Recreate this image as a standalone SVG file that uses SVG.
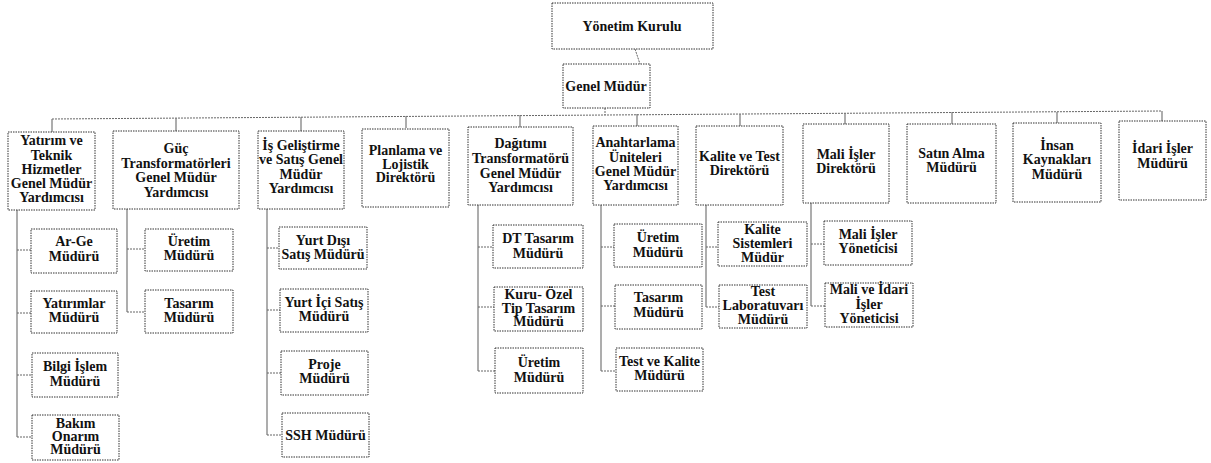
<svg xmlns="http://www.w3.org/2000/svg" width="1211" height="463" viewBox="0 0 1211 463">
<style>
.b{fill:#fff;stroke:#333;stroke-width:1;stroke-dasharray:1.5,1}
.t{font-family:"Liberation Serif","Times New Roman",serif;font-weight:bold;font-size:14px;fill:#111;text-anchor:middle}
.c{fill:none;stroke:#666;stroke-width:1;stroke-dasharray:2,1}
.s{fill:none;stroke:#777;stroke-width:1.2}
</style>
<rect width="1211" height="463" fill="#fff"/>
<g id="connectors">
<path class="c" d="M635 49 L640 64"/>
<path class="c" d="M605 108 V115"/>
<path class="c" d="M52 119 L1162 111"/>
<path class="s" d="M52 119 V132 M176 118 V131 M301 117 V131 M406 116 V128 M520 115 V127 M637 114 V126 M740 114 V126 M845 113 V124 M952 112 V124 M1057 112 V123 M1162 111 V121"/>
<path class="s" d="M17 210 V437 M127 209 V312 M267 209 V435 M478 205 V371 M601 205 V371 M706 205 V307 M811 203 V306"/>
<path class="c" d="M17 250 H31 M17 313 H31 M17 375 H32 M17 437 H32"/>
<path class="c" d="M127 249 H145 M127 312 H145"/>
<path class="c" d="M267 248 H279 M267 310 H280 M267 373 H281 M267 435 H282"/>
<path class="c" d="M478 247 H493 M478 307 H494 M478 371 H495"/>
<path class="c" d="M601 247 H614 M601 306 H615 M601 371 H616"/>
<path class="c" d="M706 247 H718 M706 307 H719"/>
<path class="c" d="M811 244 H824 M811 306 H825"/>
</g>
<g id="yonetim-kurulu"><rect class="b" x="552" y="3" width="161" height="46"/><text class="t" x="632" y="31">Yönetim Kurulu</text></g>
<g id="genel-mudur"><rect class="b" x="563" y="64" width="87" height="44"/><text class="t" x="606" y="91">Genel Müdür</text></g>
<g id="yatirim"><rect class="b" x="8" y="132" width="87" height="78"/><text class="t" x="51.5"><tspan x="51.5" y="145">Yatırım ve</tspan><tspan x="51.5" y="159.5">Teknik</tspan><tspan x="51.5" y="174">Hizmetler</tspan><tspan x="51.5" y="188">Genel Müdür</tspan><tspan x="51.5" y="202">Yardımcısı</tspan></text></g>
<g id="guc"><rect class="b" x="113" y="131" width="126" height="78"/><text class="t"><tspan x="176" y="153">Güç</tspan><tspan x="176" y="167.5">Transformatörleri</tspan><tspan x="176" y="182">Genel Müdür</tspan><tspan x="176" y="196.5">Yardımcısı</tspan></text></g>
<g id="is-gelistirme"><rect class="b" x="258" y="131" width="86" height="78"/><text class="t"><tspan x="301" y="150">İş Geliştirme</tspan><tspan x="301" y="164">ve Satış Genel</tspan><tspan x="301" y="178.5">Müdür</tspan><tspan x="301" y="193">Yardımcısı</tspan></text></g>
<g id="planlama"><rect class="b" x="362" y="129" width="87" height="78"/><text class="t"><tspan x="405.5" y="155">Planlama ve</tspan><tspan x="405.5" y="168.5">Lojistik</tspan><tspan x="405.5" y="182">Direktörü</tspan></text></g>
<g id="dagitim"><rect class="b" x="468" y="127" width="105" height="78"/><text class="t"><tspan x="520.5" y="148">Dağıtımı</tspan><tspan x="520.5" y="163">Transformatörü</tspan><tspan x="520.5" y="177.5">Genel Müdür</tspan><tspan x="520.5" y="192">Yardımcısı</tspan></text></g>
<g id="anahtarlama"><rect class="b" x="593" y="126" width="85" height="79"/><text class="t"><tspan x="635.5" y="147">Anahtarlama</tspan><tspan x="635.5" y="161.5">Üniteleri</tspan><tspan x="635.5" y="176">Genel Müdür</tspan><tspan x="635.5" y="190">Yardımcısı</tspan></text></g>
<g id="kalite-test"><rect class="b" x="696" y="126" width="87" height="79"/><text class="t"><tspan x="739.5" y="161">Kalite ve Test</tspan><tspan x="739.5" y="175">Direktörü</tspan></text></g>
<g id="mali-isler"><rect class="b" x="803" y="124" width="86" height="79"/><text class="t"><tspan x="846" y="159">Mali İşler</tspan><tspan x="846" y="173">Direktörü</tspan></text></g>
<g id="satin-alma"><rect class="b" x="907" y="124" width="89" height="79"/><text class="t"><tspan x="951.5" y="157.5">Satın Alma</tspan><tspan x="951.5" y="172">Müdürü</tspan></text></g>
<g id="insan"><rect class="b" x="1013" y="123" width="88" height="79"/><text class="t"><tspan x="1057" y="149.5">İnsan</tspan><tspan x="1057" y="164">Kaynakları</tspan><tspan x="1057" y="178.5">Müdürü</tspan></text></g>
<g id="idari"><rect class="b" x="1119" y="121" width="87" height="79"/><text class="t"><tspan x="1162.5" y="153">İdari İşler</tspan><tspan x="1162.5" y="168">Müdürü</tspan></text></g>
<g id="arge"><rect class="b" x="31" y="229" width="86" height="44"/><text class="t"><tspan x="74" y="246">Ar-Ge</tspan><tspan x="74" y="260.5">Müdürü</tspan></text></g>
<g id="yatirimlar"><rect class="b" x="31" y="291" width="86" height="42"/><text class="t"><tspan x="74" y="307.5">Yatırımlar</tspan><tspan x="74" y="322">Müdürü</tspan></text></g>
<g id="bilgi-islem"><rect class="b" x="32" y="353" width="86" height="44"/><text class="t"><tspan x="75" y="371">Bilgi İşlem</tspan><tspan x="75" y="385.5">Müdürü</tspan></text></g>
<g id="bakim"><rect class="b" x="32" y="415" width="87" height="45"/><text class="t"><tspan x="75.5" y="427.5">Bakım</tspan><tspan x="75.5" y="440.5">Onarım</tspan><tspan x="75.5" y="453.5">Müdürü</tspan></text></g>
<g id="guc-uretim"><rect class="b" x="145" y="229" width="88" height="42"/><text class="t"><tspan x="189" y="245.5">Üretim</tspan><tspan x="189" y="260">Müdürü</tspan></text></g>
<g id="guc-tasarim"><rect class="b" x="145" y="290" width="88" height="43"/><text class="t"><tspan x="189" y="307.5">Tasarım</tspan><tspan x="189" y="322">Müdürü</tspan></text></g>
<g id="yurt-disi"><rect class="b" x="279" y="227" width="88" height="42"/><text class="t"><tspan x="323" y="245">Yurt Dışı</tspan><tspan x="323" y="259">Satış Müdürü</tspan></text></g>
<g id="yurt-ici"><rect class="b" x="280" y="289" width="88" height="43"/><text class="t"><tspan x="324" y="306.5">Yurt İçi Satış</tspan><tspan x="324" y="320.5">Müdürü</tspan></text></g>
<g id="proje"><rect class="b" x="281" y="351" width="87" height="44"/><text class="t"><tspan x="324.5" y="368.5">Proje</tspan><tspan x="324.5" y="383">Müdürü</tspan></text></g>
<g id="ssh"><rect class="b" x="282" y="413" width="87" height="44"/><text class="t" x="325.5" y="440">SSH Müdürü</text></g>
<g id="dt-tasarim"><rect class="b" x="493" y="225" width="90" height="43"/><text class="t"><tspan x="538" y="243">DT Tasarım</tspan><tspan x="538" y="257.5">Müdürü</tspan></text></g>
<g id="kuru-ozel"><rect class="b" x="494" y="287" width="89" height="44"/><text class="t"><tspan x="538.5" y="298.5">Kuru- Özel</tspan><tspan x="538.5" y="312.5">Tip Tasarım</tspan><tspan x="538.5" y="326">Müdürü</tspan></text></g>
<g id="dt-uretim"><rect class="b" x="495" y="348" width="88" height="45"/><text class="t"><tspan x="539" y="367">Üretim</tspan><tspan x="539" y="382">Müdürü</tspan></text></g>
<g id="an-uretim"><rect class="b" x="614" y="224" width="88" height="43"/><text class="t"><tspan x="658" y="242">Üretim</tspan><tspan x="658" y="256.5">Müdürü</tspan></text></g>
<g id="an-tasarim"><rect class="b" x="615" y="285" width="87" height="44"/><text class="t"><tspan x="658.5" y="302">Tasarım</tspan><tspan x="658.5" y="316.5">Müdürü</tspan></text></g>
<g id="test-kalite"><rect class="b" x="616" y="348" width="87" height="43"/><text class="t"><tspan x="659.5" y="365.5">Test ve Kalite</tspan><tspan x="659.5" y="380">Müdürü</tspan></text></g>
<g id="kalite-sistemleri"><rect class="b" x="718" y="222" width="89" height="44"/><text class="t"><tspan x="762.5" y="233.5">Kalite</tspan><tspan x="762.5" y="247.5">Sistemleri</tspan><tspan x="762.5" y="262">Müdür</tspan></text></g>
<g id="test-lab"><rect class="b" x="719" y="285" width="88" height="43"/><text class="t"><tspan x="763" y="295.5">Test</tspan><tspan x="763" y="309.5">Laboratuvarı</tspan><tspan x="763" y="323.5">Müdürü</tspan></text></g>
<g id="mali-yonetici"><rect class="b" x="824" y="221" width="88" height="44"/><text class="t"><tspan x="868" y="238.5">Mali İşler</tspan><tspan x="868" y="252.5">Yöneticisi</tspan></text></g>
<g id="mali-idari"><rect class="b" x="825" y="283" width="88" height="44"/><text class="t"><tspan x="869" y="294">Mali ve İdari</tspan><tspan x="869" y="308.5">İşler</tspan><tspan x="869" y="323">Yöneticisi</tspan></text></g>
</svg>
